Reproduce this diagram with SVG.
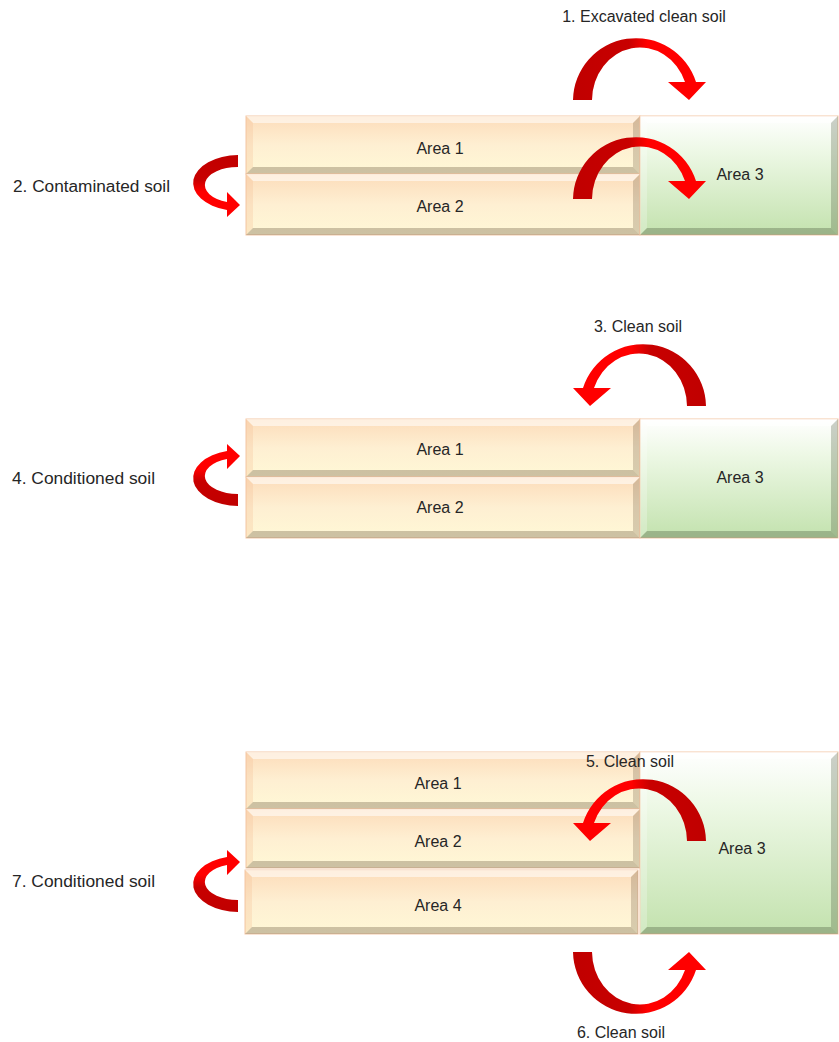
<svg xmlns="http://www.w3.org/2000/svg" width="839" height="1042" viewBox="0 0 839 1042">
<defs>
<linearGradient id="gCream" x1="0" y1="0" x2="0" y2="1">
<stop offset="0" stop-color="#FCDCBA"/><stop offset="0.5" stop-color="#FEEFD2"/><stop offset="1" stop-color="#FFF8D6"/>
</linearGradient>
<linearGradient id="gGreen" x1="0" y1="0" x2="0" y2="1">
<stop offset="0" stop-color="#FFFFFF"/><stop offset="0.3" stop-color="#EDF8E5"/><stop offset="1" stop-color="#C3E2AE"/>
</linearGradient>
<linearGradient id="aH" x1="0" y1="0" x2="1" y2="0">
<stop offset="0" stop-color="#C00000"/><stop offset="0.42" stop-color="#C80000"/><stop offset="0.56" stop-color="#FF0000"/><stop offset="1" stop-color="#FF0000"/>
</linearGradient>
<linearGradient id="aV" x1="0" y1="0" x2="0" y2="1">
<stop offset="0" stop-color="#C00000"/><stop offset="0.4" stop-color="#C80000"/><stop offset="0.6" stop-color="#FF0000"/><stop offset="1" stop-color="#FF0000"/>
</linearGradient>
<path id="arcDown" d="M573,100 A63,63 0 0 1 696,82 L706,82 L689,100 L668,82 L685,82 A48,53 0 0 0 592,100 Z"/>
<path id="arcSide" d="M238,155 A46,28 0 0 0 227,210 L227,217 L240,205 L227,192 L227,202 A33,18 0 0 1 238,167 Z"/>
</defs>
<style>
.txt{font-family:"Liberation Sans",Arial,sans-serif;font-size:16px;fill:#262626}
.mid{text-anchor:middle}
.cream{fill:url(#gCream);stroke:#F4C7A6;stroke-width:1}
.green{fill:url(#gGreen);stroke:#F4C7A6;stroke-width:1}
.bt{fill:#FFFFFF;opacity:0.55}
.bl{fill:#F2B98A;opacity:0.25}
.bb{fill:#5A4630;opacity:0.3}
.br{fill:#5A4630;opacity:0.24}
.gbl{fill:#FFFFFF;opacity:0.25}
.gbb{fill:#3A4A30;opacity:0.3}
.gbr{fill:#3A4A30;opacity:0.26}
.ah{fill:url(#aH)}
.av{fill:url(#aV)}
</style>
<rect width="839" height="1042" fill="#FFFFFF"/>

<!-- Section 1 -->
<g id="s1-area1">
<rect class="cream" x="246" y="116" width="394" height="58"/>
<polygon class="bt" points="246,116 640,116 633,123 253,123"/>
<polygon class="bl" points="246,116 253,123 253,167 246,174"/>
<polygon class="bb" points="246,174 253,167 633,167 640,174"/>
<polygon class="br" points="640,116 640,174 633,167 633,123"/>
<text class="txt mid" x="440" y="154">Area 1</text>
</g>
<g id="s1-area2">
<rect class="cream" x="246" y="174" width="394" height="61"/>
<polygon class="bt" points="246,174 640,174 633,181 253,181"/>
<polygon class="bl" points="246,174 253,181 253,228 246,235"/>
<polygon class="bb" points="246,235 253,228 633,228 640,235"/>
<polygon class="br" points="640,174 640,235 633,228 633,181"/>
<text class="txt mid" x="440" y="212">Area 2</text>
</g>
<g id="s1-area3">
<rect class="green" x="640" y="116" width="198" height="119"/>
<polygon class="bt" points="640,116 838,116 831,123 647,123"/>
<polygon class="gbl" points="640,116 647,123 647,228 640,235"/>
<polygon class="gbb" points="640,235 647,228 831,228 838,235"/>
<polygon class="gbr" points="838,116 838,235 831,228 831,123"/>
<text class="txt mid" x="740" y="180">Area 3</text>
</g>

<!-- Section 2 -->
<g id="s2-area1">
<rect class="cream" x="246" y="419" width="394" height="58"/>
<polygon class="bt" points="246,419 640,419 633,426 253,426"/>
<polygon class="bl" points="246,419 253,426 253,470 246,477"/>
<polygon class="bb" points="246,477 253,470 633,470 640,477"/>
<polygon class="br" points="640,419 640,477 633,470 633,426"/>
<text class="txt mid" x="440" y="455">Area 1</text>
</g>
<g id="s2-area2">
<rect class="cream" x="246" y="477" width="394" height="61"/>
<polygon class="bt" points="246,477 640,477 633,484 253,484"/>
<polygon class="bl" points="246,477 253,484 253,531 246,538"/>
<polygon class="bb" points="246,538 253,531 633,531 640,538"/>
<polygon class="br" points="640,477 640,538 633,531 633,484"/>
<text class="txt mid" x="440" y="513">Area 2</text>
</g>
<g id="s2-area3">
<rect class="green" x="640" y="419" width="198" height="119"/>
<polygon class="bt" points="640,419 838,419 831,426 647,426"/>
<polygon class="gbl" points="640,419 647,426 647,531 640,538"/>
<polygon class="gbb" points="640,538 647,531 831,531 838,538"/>
<polygon class="gbr" points="838,419 838,538 831,531 831,426"/>
<text class="txt mid" x="740" y="483">Area 3</text>
</g>

<!-- Section 3 -->
<g id="s3-area1">
<rect class="cream" x="246" y="752" width="394" height="57"/>
<polygon class="bt" points="246,752 640,752 633,759 253,759"/>
<polygon class="bl" points="246,752 253,759 253,802 246,809"/>
<polygon class="bb" points="246,809 253,802 633,802 640,809"/>
<polygon class="br" points="640,752 640,809 633,802 633,759"/>
<text class="txt mid" x="438" y="789">Area 1</text>
</g>
<g id="s3-area2">
<rect class="cream" x="246" y="809" width="394" height="59"/>
<polygon class="bt" points="246,809 640,809 633,816 253,816"/>
<polygon class="bl" points="246,809 253,816 253,861 246,868"/>
<polygon class="bb" points="246,868 253,861 633,861 640,868"/>
<polygon class="br" points="640,809 640,868 633,861 633,816"/>
<text class="txt mid" x="438" y="847">Area 2</text>
</g>
<g id="s3-area4">
<rect class="cream" x="245" y="870" width="393" height="64"/>
<polygon class="bt" points="245,870 638,870 631,877 252,877"/>
<polygon class="bl" points="245,870 252,877 252,927 245,934"/>
<polygon class="bb" points="245,934 252,927 631,927 638,934"/>
<polygon class="br" points="638,870 638,934 631,927 631,877"/>
<text class="txt mid" x="438" y="911">Area 4</text>
</g>
<g id="s3-area3">
<rect class="green" x="640" y="752" width="198" height="182"/>
<polygon class="bt" points="640,752 838,752 831,759 647,759"/>
<polygon class="gbl" points="640,752 647,759 647,927 640,934"/>
<polygon class="gbb" points="640,934 647,927 831,927 838,934"/>
<polygon class="gbr" points="838,752 838,934 831,927 831,759"/>
<text class="txt mid" x="742" y="854">Area 3</text>
</g>

<!-- Connectors -->
<g id="connectors">
<use href="#arcDown" class="ah"/>
<use href="#arcDown" class="ah" transform="translate(0,99)"/>
<use href="#arcSide" class="av"/>
<use href="#arcDown" class="ah" transform="translate(1279,306) scale(-1,1)"/>
<use href="#arcSide" class="av" transform="translate(0,661) scale(1,-1)"/>
<use href="#arcDown" class="ah" transform="translate(1279,741) scale(-1,1)"/>
<use href="#arcDown" class="ah" transform="translate(0,1052) scale(1,-1)"/>
<use href="#arcSide" class="av" transform="translate(0,1067) scale(1,-1)"/>
</g>

<g id="labels">
<text class="txt mid" x="644" y="22">1. Excavated clean soil</text>
<text class="txt" x="13" y="192" textLength="157" lengthAdjust="spacingAndGlyphs">2. Contaminated soil</text>
<text class="txt mid" x="638" y="332">3. Clean soil</text>
<text class="txt" x="12" y="484" textLength="143" lengthAdjust="spacingAndGlyphs">4. Conditioned soil</text>
<text class="txt mid" x="630" y="767">5. Clean soil</text>
<text class="txt mid" x="621" y="1038">6. Clean soil</text>
<text class="txt" x="12" y="887" textLength="143" lengthAdjust="spacingAndGlyphs">7. Conditioned soil</text>
</g>
</svg>
